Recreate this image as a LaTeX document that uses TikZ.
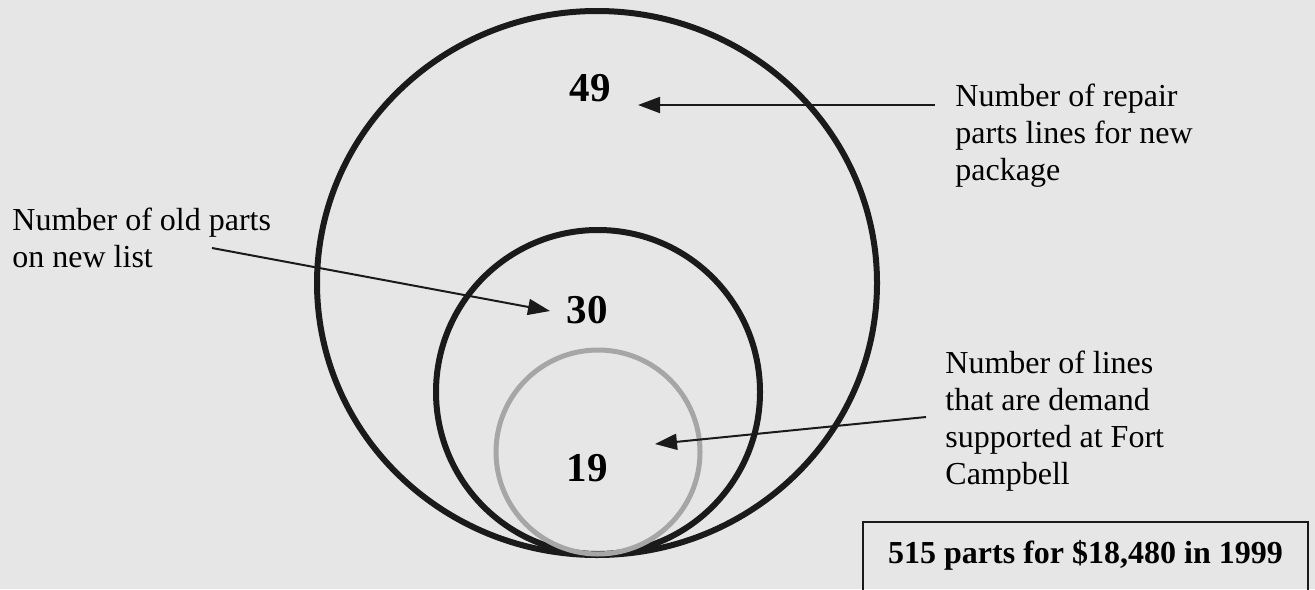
\documentclass[tikz,border=0pt]{standalone}
\usepackage{fontspec}
\setmainfont{Liberation Serif}
\usetikzlibrary{arrows.meta}
\definecolor{bg}{HTML}{E5E6E5}
\definecolor{ring}{HTML}{1A1A1A}
\definecolor{pale}{HTML}{A6A6A6}
\begin{document}
\begin{tikzpicture}[x=0.5pt,y=-0.5pt,
  ringline/.style={draw=ring, line width=3pt},
  paleline/.style={draw=pale, line width=2.5pt},
  numtext/.style={inner sep=0pt, anchor=center, font=\bfseries\fontsize{20.5pt}{24pt}\selectfont},
  lbl/.style={inner sep=0pt, anchor=base west, align=left, font=\fontsize{16pt}{18.5pt}\selectfont},
  arr/.style={draw=ring, line width=1pt, -{Triangle[length=11pt,width=8pt]}}]
\useasboundingbox (0,0) rectangle (1315,589);
\clip (0,0) rectangle (1315,589);
\fill[bg] (0,0) rectangle (1315,589);
% circles
\path[ringline] (597,283) ellipse [x radius=140pt, y radius=136pt];
\path[ringline] (598,392) circle [radius=81pt];
\path[paleline] (598,452) circle [radius=51pt];
% numbers
\node[numtext] (n49) at (590,88) {49};
\node[numtext] (n30) at (587,310) {30};
\node[numtext] (n19) at (587,468) {19};
% labels (base anchor = baseline of the last line)
\node[lbl] (repair) at (955,180) {Number of repair\\parts lines for new\\package};
\node[lbl] (old) at (12,267) {Number of old parts\\on new list};
\node[lbl] (demand) at (945,484) {Number of lines\\that are demand\\supported at Fort\\Campbell};
% box
\node[draw=ring, line width=1pt, inner sep=0pt, anchor=north west,
      minimum width=222.5pt, text height=20.5pt, text depth=30pt,
      font=\bfseries\fontsize{16pt}{18.5pt}\selectfont] (cost) at (862,521)
      {515 parts for \$18,480 in 1999};
% connector ends
\coordinate (s49) at (935,105);
\coordinate (t49) at (638,105);
\coordinate (s30) at (212,248);
\coordinate (t30) at (550,311);
\coordinate (s19) at (926,417);
\coordinate (t19) at (655,444);
\draw[arr] (s49) -- (t49);
\draw[arr] (s30) -- (t30);
\draw[arr] (s19) -- (t19);
\end{tikzpicture}
\end{document}
